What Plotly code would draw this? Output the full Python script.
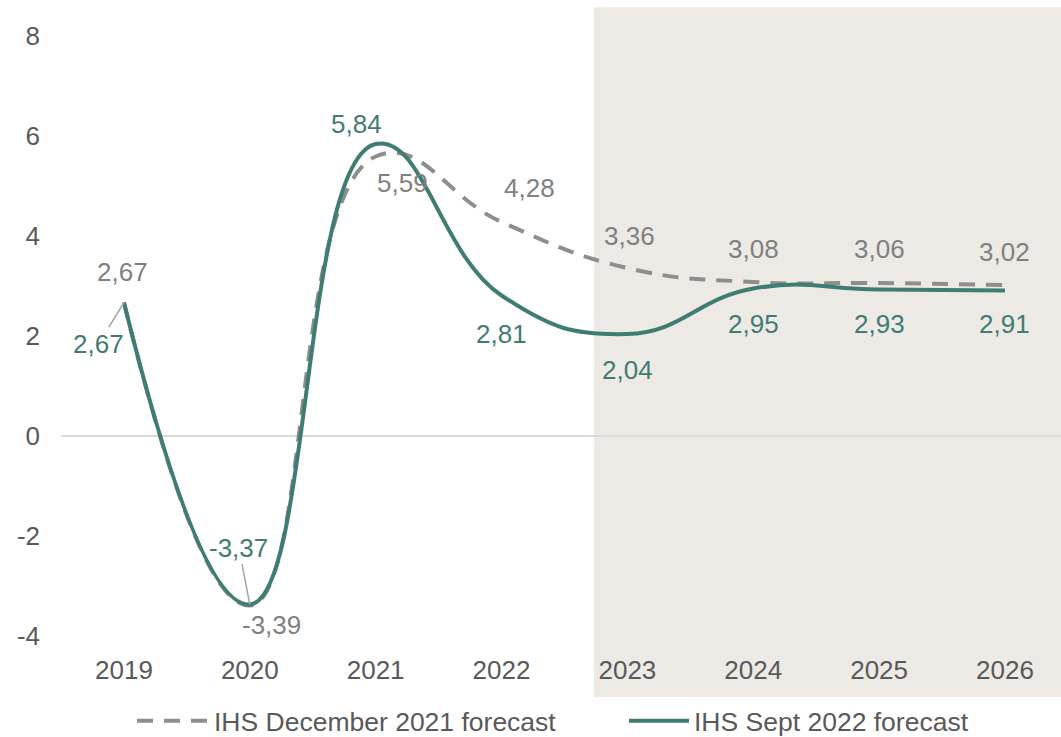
import plotly.graph_objects as go

# Annual growth forecasts (%)
years = ["2019", "2020", "2021", "2022", "2023", "2024", "2025", "2026"]
dec_2021 = [2.67, -3.39, 5.59, 4.28, 3.36, 3.08, 3.06, 3.02]
sept_2022 = [2.67, -3.37, 5.84, 2.81, 2.04, 2.95, 2.93, 2.91]
y_ticks = [-4, -2, 0, 2, 4, 6, 8]

name_dec = "IHS December 2021 forecast"
name_sept = "IHS Sept 2022 forecast"

GREEN = "#3f7c72"
GRAY_LINE = "#8e8e8e"
GRAY_TXT = "#808080"
TICK_TXT = "#595959"
FONT = "Liberation Sans, Arial, sans-serif"
FS = 26

xs = list(range(len(years)))

# label offsets in pixels (xshift, yshift) for each series
dec_shift = [(-1, 31), (22, -19), (27, -26), (28, 34), (2, 32), (0, 33), (0, 34), (0, 33)]
sept_shift = [(-25, -41), (-11, 57), (-19, 20), (0, -38), (0, -36), (0, -35), (0, -34), (0, -33)]


def fmt(v):
    return f"{v:.2f}".replace(".", ",")


fig = go.Figure()
fig.add_trace(go.Scatter(
    x=xs, y=dec_2021, name=name_dec, mode="lines", legend="legend",
    line=dict(color=GRAY_LINE, width=4, dash="16px,11px", shape="spline", smoothing=1.3),
    hoverinfo="skip",
))
fig.add_trace(go.Scatter(
    x=xs, y=sept_2022, name=name_sept, mode="lines", legend="legend2",
    line=dict(color=GREEN, width=4, shape="spline", smoothing=1.3),
    hoverinfo="skip",
))

annotations = []
for i, v in enumerate(dec_2021):
    dx, dy = dec_shift[i]
    annotations.append(dict(x=xs[i], y=v, xref="x", yref="y", text=fmt(v),
                            showarrow=False, xshift=dx, yshift=dy,
                            font=dict(family=FONT, size=FS, color=GRAY_TXT)))
for i, v in enumerate(sept_2022):
    dx, dy = sept_shift[i]
    if i in (0, 1):
        # labels pulled away from the point get a thin leader line
        annotations.append(dict(x=xs[i], y=v, xref="x", yref="y", text=fmt(v),
                                showarrow=True, arrowhead=0, arrowwidth=1.5,
                                arrowcolor="#a6a6a6", ax=dx, ay=-dy, standoff=0,
                                font=dict(family=FONT, size=FS, color=GREEN)))
    else:
        annotations.append(dict(x=xs[i], y=v, xref="x", yref="y", text=fmt(v),
                                showarrow=False, xshift=dx, yshift=dy,
                                font=dict(family=FONT, size=FS, color=GREEN)))

legend_style = dict(
    orientation="h", yanchor="middle", y=-0.1417,
    font=dict(family=FONT, size=26.5, color=TICK_TXT),
    bgcolor="rgba(0,0,0,0)", borderwidth=0, tracegroupgap=0,
)

fig.update_layout(
    width=1061, height=737,
    margin=dict(l=61, r=0, t=36, b=101, autoexpand=False),
    paper_bgcolor="white", plot_bgcolor="rgba(0,0,0,0)",
    font=dict(family=FONT, size=FS, color=TICK_TXT),
    showlegend=True,
    legend=dict(legend_style, x=0.071, xanchor="left", itemwidth=72),
    legend2=dict(legend_style, x=0.563, xanchor="left", itemwidth=60),
    annotations=annotations,
    shapes=[dict(
        type="rect", xref="paper", yref="paper",
        x0=0.533, x1=1.0, y0=-0.1017, y1=1.048,
        fillcolor="#edeae5", line=dict(width=0), layer="below",
    )],
)
fig.update_xaxes(
    range=[-0.5, 7.445], tickmode="array", tickvals=xs, ticktext=years,
    showgrid=False, zeroline=False, showline=False, ticks="",
    ticklabelstandoff=16, tickfont=dict(family=FONT, size=FS, color=TICK_TXT),
    fixedrange=True,
)
fig.update_yaxes(
    range=[-4, 8], tickmode="array", tickvals=y_ticks, ticktext=[str(t) for t in y_ticks],
    showgrid=False, zeroline=True, zerolinecolor="#d9d9d9", zerolinewidth=1.5,
    showline=False, ticks="", ticklabelstandoff=20,
    tickfont=dict(family=FONT, size=FS, color=TICK_TXT), fixedrange=True,
)

fig.write_html("out.html")
